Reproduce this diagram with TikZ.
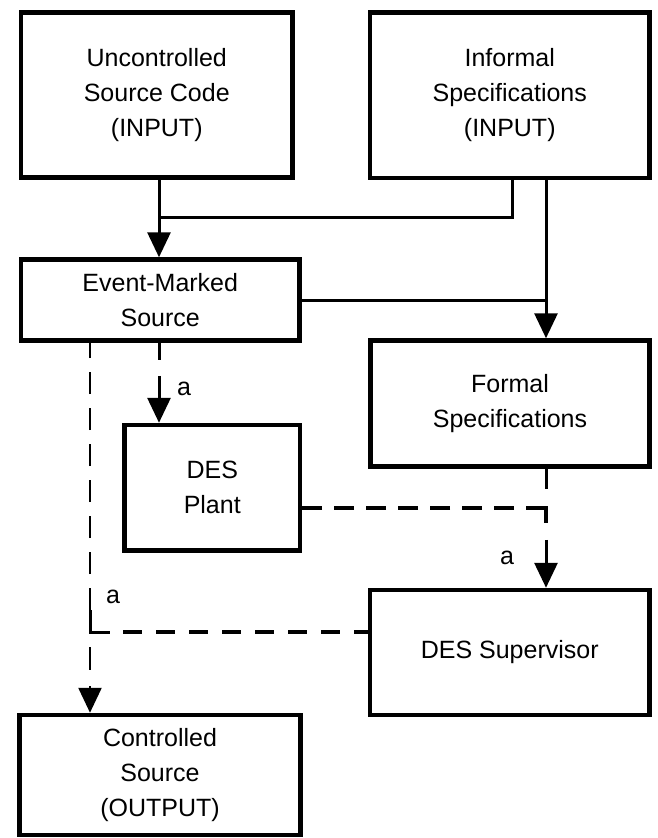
\documentclass[tikz,border=0pt]{standalone}
\usepackage{fontspec}
\setmainfont{Liberation Sans}
\usetikzlibrary{arrows.meta,calc}
\begin{document}
\begin{tikzpicture}[x=1pt,y=-1pt,
  box/.style={draw=black,line width=4.5pt,fill=white,align=center,font=\fontsize{25}{35}\selectfont,inner sep=0pt},
  conn/.style={line width=3pt},
  tip/.style={-{Triangle[width=23pt,length=25pt]}},
  lbl/.style={font=\fontsize{25}{28}\selectfont,inner sep=0pt}]
\fill[white] (0,0) rectangle (658,838);
\useasboundingbox (0,0) rectangle (658,838);

\node[box,minimum width=271.5pt,minimum height=165pt] (uc) at (156.75,95) {Uncontrolled\\Source Code\\(INPUT)};
\node[box,minimum width=279.5pt,minimum height=165.5pt] (inf) at (509.75,95.25) {Informal\\Specifications\\(INPUT)};
\node[box,minimum width=278.5pt,minimum height=81pt] (em) at (160.25,300) {Event-Marked\\Source};
\node[box,minimum width=279pt,minimum height=126pt] (fs) at (510,403.5) {Formal\\Specifications};
\node[box,minimum width=175.5pt,minimum height=125.5pt] (pl) at (212.25,487.75) {DES\\Plant};
\node[box,minimum width=279.5pt,minimum height=125pt] (sup) at (509.75,652.5) {DES Supervisor};
\node[box,minimum width=281pt,minimum height=120pt] (cs) at (160,775) {Controlled\\Source\\(OUTPUT)};

\coordinate (xa) at (159,0);
\coordinate (xb) at (512,0);
\coordinate (xc) at (546,0);
\coordinate (xd) at (90,0);
\coordinate (ya) at (0,217);
\coordinate (yb) at (0,508);
\coordinate (yc) at (0,632);

% solid connectors
\draw[conn,tip] (uc.south -| xa) -- (em.north -| xa);
\draw[conn] (inf.south -| xb) -- (xb |- ya) -- (xa |- ya);
\draw[conn,tip] (inf.south -| xc) -- (fs.north -| xc);
\draw[conn] (em.east) -- (em.east -| xc);

% Event-Marked -> DES Plant
\draw[conn,dash pattern=on 17pt off 18pt] (em.south -| xa) -- ($(pl.north -| xa)+(0,-47)$);
\draw[conn,tip] ($(pl.north -| xa)+(0,-47)$) -- (pl.north -| xa);

% Formal -> DES Supervisor, with DES Plant joining
\draw[conn,dash pattern=on 20pt off 21pt] (fs.south -| xc) -- (xc |- yb);
\draw[line width=3.5pt] ($(xc |- yb)+(-20,0)$) -- (xc |- yb) -- ($(xc |- yb)+(0,15)$);
\draw[line width=3.5pt,dash pattern=on 20pt off 12pt] ($(xc |- yb)+(-32,0)$) -- (pl.east |- yb);
\draw[conn,tip] ($(sup.north -| xc)+(0,-48)$) -- (sup.north -| xc);

% Event-Marked -> Controlled, with DES Supervisor joining
\draw[line width=2.5pt,dash pattern=on 22pt off 14pt] ($(xd |- yc)+(0,-22)$) -- (em.south -| xd);
\draw[line width=3pt] ($(xd |- yc)+(0,-22)$) -- (xd |- yc) -- ($(xd |- yc)+(20,0)$);
\draw[line width=3.5pt,dash pattern=on 19pt off 14pt] ($(xd |- yc)+(33,0)$) -- (sup.west |- yc);
\draw[line width=2.5pt,dash pattern=on 23pt off 16pt,tip] ($(xd |- yc)+(0,15)$) -- (cs.north -| xd);

% labels
\node[lbl] (la1) at (184,389) {a};
\node[lbl] (la2) at (507,558) {a};
\node[lbl] (la3) at (113,597) {a};
\end{tikzpicture}
\end{document}
